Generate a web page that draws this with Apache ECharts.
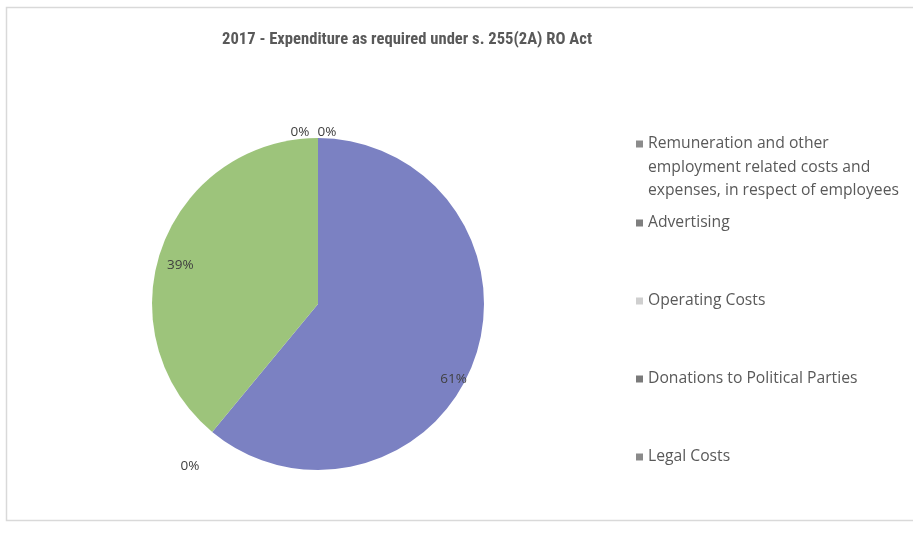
<!DOCTYPE html>
<html>
<head>
<meta charset="utf-8">
<script src="https://cdn.jsdelivr.net/npm/echarts@6/dist/echarts.min.js"></script>
<style>
html,body{margin:0;padding:0;background:#fff;}
#chart{width:913px;height:538px;}
</style>
</head>
<body>
<div id="chart"></div>
<script>
const titleText = '2017 - Expenditure as required under s. 255(2A) RO Act';
const categories = [
  'Remuneration and other employment related costs and expenses, in respect of employees',
  'Advertising',
  'Operating Costs',
  'Donations to Political Parties',
  'Legal Costs'
];
const legendLabels = [
  'Remuneration and other\nemployment related costs and\nexpenses, in respect of employees',
  'Advertising',
  'Operating Costs',
  'Donations to Political Parties',
  'Legal Costs'
];
const values = [61, 0, 39, 0, 0];
const sliceColors = ['#7b81c2', '#c0504d', '#9dc47b', '#8064a2', '#4bacc6'];
const legendIconColors = ['#8c8c8c', '#7f7f7f', '#cfcfcf', '#7a7a7a', '#8a8a8a'];

const TITLE_FONT = "'Roboto Condensed', 'Liberation Sans Narrow', sans-serif";
const FONT = "'Open Sans', 'Noto Sans', sans-serif";
const cx = 318, cy = 304, R = 166;
const legendCenters = [144, 223, 301, 379, 457];
const LH = 23.5;

const chart = echarts.init(document.getElementById('chart'), null, {renderer: 'canvas'});

const legends = categories.map((name, i) => {
  const multi = i === 0;
  const H = 7 + 2 * LH;
  return {
    orient: 'vertical',
    left: 636,
    top: legendCenters[i] - LH / 2,
    padding: 0,
    itemWidth: 7,
    itemHeight: multi ? H : 7,
    itemGap: 0,
    itemTextGap: 6,
    selectedMode: false,
    icon: multi ? 'path://M0,0L7,0L7,7L0,7Z M0,' + H + 'L7,' + H : 'rect',
    formatter: () => legendLabels[i],
    textStyle: {
      fontFamily: FONT,
      fontSize: 15.7,
      color: '#595959',
      lineHeight: LH
    },
    data: [{name: name, itemStyle: {color: legendIconColors[i]}}]
  };
});

const option = {
  animation: false,
  backgroundColor: '#ffffff',
  title: {
    text: titleText,
    left: 402,
    top: 26,
    textAlign: 'center',
    textStyle: {fontFamily: TITLE_FONT, fontSize: 16.6, fontWeight: 'bold', color: '#595959'}
  },
  legend: legends,
  graphic: [{
    type: 'rect',
    shape: {x: 6.5, y: 7.5, width: 920, height: 513},
    style: {fill: 'none', stroke: '#d9d9d9', lineWidth: 1.5},
    silent: true,
    z: -10
  }],
  series: [{
    type: 'pie',
    center: [cx, cy],
    radius: [0, R],
    startAngle: 90,
    clockwise: true,
    avoidLabelOverlap: false,
    stillShowZeroSum: true,
    minShowLabelAngle: 0,
    label: {
      show: true,
      fontFamily: FONT,
      fontSize: 13.5,
      color: '#404040'
    },
    labelLine: {show: false},
    labelLayout: function (p) {
      const r = p.labelRect;
      const lx = r.x + r.width / 2, ly = r.y + r.height / 2;
      if (p.dataIndex === 0) return {dx: (lx - cx) * 0.8 - 10, dy: (ly - cy) * 0.8 + 23};
      if (p.dataIndex === 2) return {dx: (lx - cx) * 0.8 + 8, dy: (ly - cy) * 0.8 + 14};
      if (p.dataIndex === 1) return {x: cx - 128, y: cy + 162, align: 'center', verticalAlign: 'middle'};
      if (p.dataIndex === 3) return {x: cx - 18, y: cy - R - 6, align: 'center', verticalAlign: 'middle'};
      if (p.dataIndex === 4) return {x: cx + 9, y: cy - R - 6, align: 'center', verticalAlign: 'middle'};
      return {};
    },
    itemStyle: {borderWidth: 0},
    emphasis: {disabled: true},
    data: categories.map((name, i) => ({
      name: name,
      value: values[i],
      itemStyle: {color: sliceColors[i]},
      label: {position: values[i] > 0 ? 'inside' : 'outside', formatter: function (pp) { return Math.round(pp.percent) + '%'; }}
    }))
  }]
};
chart.setOption(option);
</script>
</body>
</html>
